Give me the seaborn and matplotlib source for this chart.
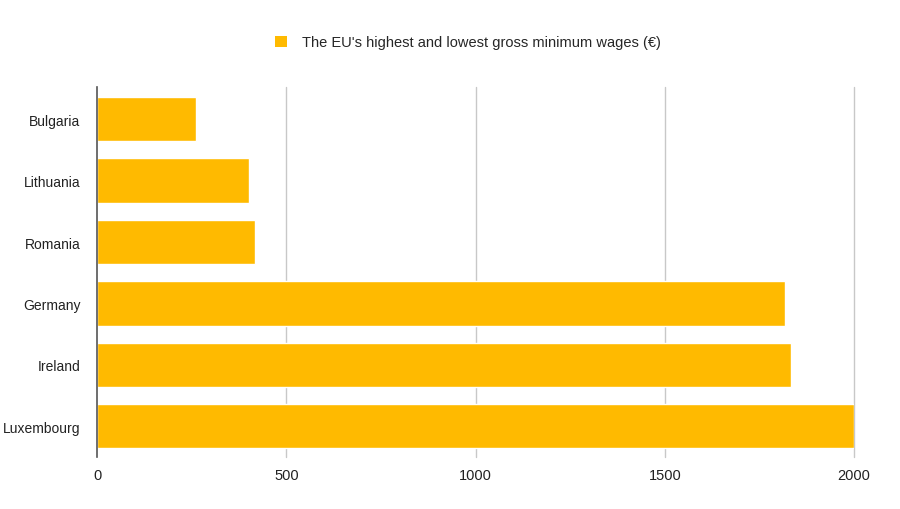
import matplotlib
matplotlib.use("Agg")
import matplotlib.pyplot as plt
import seaborn as sns
import pandas as pd
from matplotlib.patches import Patch

countries = ["Bulgaria", "Lithuania", "Romania", "Germany", "Ireland", "Luxembourg"]
wages = [261, 400, 416, 1817, 1833, 2000]
series_name = "The EU's highest and lowest gross minimum wages (€)"
x_ticks = [0, 500, 1000, 1500, 2000]

sns.set_theme(style="white")
plt.rcParams["font.family"] = ["Liberation Sans", "DejaVu Sans"]

df = pd.DataFrame({"country": countries, "wage": wages})
color = "#FFBA00"

fig = plt.figure(figsize=(9, 5.1), dpi=100)
ax = fig.add_axes([0.108, 0.102, 0.841, 0.725])
sns.barplot(data=df, x="wage", y="country", orient="h", color=color,
            saturation=1, width=0.72, ax=ax, zorder=3)

ax.set_xlim(0, 2000)
ax.set_ylim(5.5, -0.52)
ax.set_xticks(x_ticks)
ax.set_xticklabels([str(t) for t in x_ticks], fontsize=10.5, color="#222222")
ax.tick_params(axis="y", labelsize=10, labelcolor="#222222", length=0, pad=12)
ax.tick_params(axis="x", length=0, pad=8)
ax.set_xlabel("")
ax.set_ylabel("")
for s in ["top", "right", "bottom"]:
    ax.spines[s].set_visible(False)
ax.spines["left"].set_color("#555555")
ax.spines["left"].set_linewidth(1.2)
ax.spines["left"].set_zorder(5)
for t in x_ticks[1:]:
    ax.axvline(t, color="#c8c8c8", linewidth=1, zorder=1, clip_on=False)

fig.legend(handles=[Patch(facecolor=color, edgecolor="none", label=series_name)],
           loc="center", bbox_to_anchor=(0.52, 0.915), frameon=False,
           fontsize=10.5, handlelength=0.8, handleheight=0.8, handletextpad=1.0)

fig.savefig("out.png", dpi=100, facecolor="white")
